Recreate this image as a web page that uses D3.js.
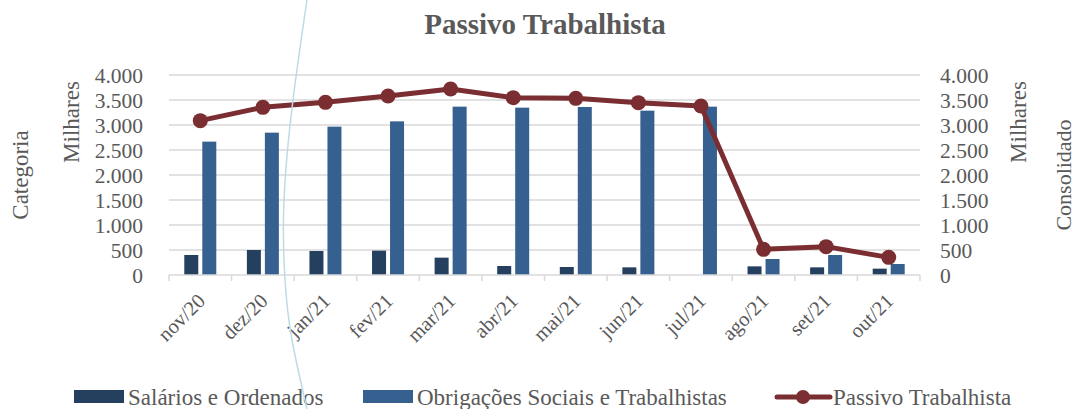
<!DOCTYPE html>
<html lang='pt'>
<head>
    <meta charset='UTF-8'>
    <title>Passivo Trabalhista</title>
    <script src='https://cdnjs.cloudflare.com/ajax/libs/d3/7.8.5/d3.min.js'></script>
    <style>
        body { margin: 0; background: #fff; }
        text { font-family: 'Liberation Serif', 'DejaVu Serif', serif; fill: #595959; }
    </style>
</head>
<body>
    <div id='anchor'></div>
    <script>
        const months = ['nov/20', 'dez/20', 'jan/21', 'fev/21', 'mar/21', 'abr/21', 'mai/21', 'jun/21', 'jul/21', 'ago/21', 'set/21', 'out/21'];
        const salarios = [400, 500, 480, 487, 347, 180, 160, 153, 0, 173, 153, 127];
        const obrigacoes = [2667, 2847, 2967, 3073, 3367, 3347, 3360, 3287, 3367, 320, 400, 220];
        const passivo = [3087, 3353, 3453, 3580, 3720, 3547, 3533, 3447, 3380, 513, 567, 353];
        const yTicks = [0, 500, 1000, 1500, 2000, 2500, 3000, 3500, 4000];
        const seriesNames = ['Salários e Ordenados', 'Obrigações Sociais e Trabalhistas', 'Passivo Trabalhista'];
        const colors = ['#253F5F', '#36608F', '#7B2E31'];

        const W = 1078, H = 409;
        const plotLeft = 169, plotRight = 920, plotTop = 75, plotBottom = 275;
        const fmt = d3.formatLocale({ decimal: ',', thousands: '.', grouping: [3], currency: ['', ''] }).format(',.0f');

        const svg = d3.select('#anchor').append('svg')
            .attr('width', W).attr('height', H);

        const x = d3.scaleBand().domain(months).range([plotLeft, plotRight]);
        const y = d3.scaleLinear().domain([0, 4000]).range([plotBottom, plotTop]);
        const y2 = d3.scaleLinear().domain([0, 4000]).range([plotBottom, plotTop]);

        // gridlines
        svg.append('g').selectAll('line').data(yTicks.filter(d => d > 0)).join('line')
            .attr('x1', plotLeft).attr('x2', plotRight)
            .attr('y1', d => y(d)).attr('y2', d => y(d))
            .attr('stroke', '#d9d9d9').attr('stroke-width', 1.3);

        // left axis
        const yl = svg.append('g').attr('transform', `translate(${plotLeft - 26},0)`)
            .call(d3.axisLeft(y).tickValues(yTicks).tickFormat(fmt).tickSize(0).tickPadding(0));
        yl.select('.domain').remove();
        yl.attr('font-family', null);
        yl.selectAll('text').attr('font-size', 21.5).attr('dy', '0.34em');

        // right axis
        const yr = svg.append('g').attr('transform', `translate(${plotRight + 20},0)`)
            .call(d3.axisRight(y2).tickValues(yTicks).tickFormat(fmt).tickSize(0).tickPadding(0));
        yr.select('.domain').remove();
        yr.attr('font-family', null);
        yr.selectAll('text').attr('font-size', 21.5).attr('dy', '0.34em');

        // bars
        const bw = 14, gap = 4;
        svg.append('g').selectAll('rect').data(months).join('rect')
            .attr('x', d => x(d) + x.bandwidth() / 2 - bw - gap / 2)
            .attr('y', (d, i) => y(salarios[i]))
            .attr('width', bw)
            .attr('height', (d, i) => y(0) - y(salarios[i]))
            .attr('fill', colors[0]);
        svg.append('g').selectAll('rect').data(months).join('rect')
            .attr('x', d => x(d) + x.bandwidth() / 2 + gap / 2)
            .attr('y', (d, i) => y(obrigacoes[i]))
            .attr('width', bw)
            .attr('height', (d, i) => y(0) - y(obrigacoes[i]))
            .attr('fill', colors[1]);

        // x axis
        svg.append('line').attr('x1', plotLeft).attr('x2', plotRight)
            .attr('y1', plotBottom).attr('y2', plotBottom)
            .attr('stroke', '#d9d9d9').attr('stroke-width', 1.5);
        svg.append('g').selectAll('line').data(d3.range(months.length + 1)).join('line')
            .attr('x1', i => plotLeft + i * x.step()).attr('x2', i => plotLeft + i * x.step())
            .attr('y1', plotBottom).attr('y2', plotBottom + 6)
            .attr('stroke', '#d9d9d9').attr('stroke-width', 1.5);
        svg.append('g').selectAll('text').data(months).join('text')
            .attr('transform', d => `translate(${x(d) + x.bandwidth() / 2 - 4},${plotBottom + 17}) rotate(-45)`)
            .attr('text-anchor', 'end')
            .attr('dy', '0.7em')
            .attr('font-size', 20.5)
            .text(d => d);

        // line
        const cx = d => x(d) + x.bandwidth() / 2;
        svg.append('path')
            .datum(months)
            .attr('fill', 'none')
            .attr('stroke', colors[2])
            .attr('stroke-width', 5)
            .attr('stroke-linejoin', 'round')
            .attr('d', d3.line().x(cx).y((d, i) => y2(passivo[i])));
        svg.append('g').selectAll('circle').data(months).join('circle')
            .attr('cx', cx)
            .attr('cy', (d, i) => y2(passivo[i]))
            .attr('r', 7.5)
            .attr('fill', colors[2]);

        // title and axis titles
        svg.append('text').attr('x', 545).attr('y', 34).attr('text-anchor', 'middle')
            .attr('font-size', 29).attr('font-weight', 'bold').text('Passivo Trabalhista');
        svg.append('text').attr('transform', 'translate(79,122) rotate(-90)').attr('text-anchor', 'middle')
            .attr('font-size', 23).text('Milhares');
        svg.append('text').attr('transform', 'translate(28,175) rotate(-90)').attr('text-anchor', 'middle')
            .attr('font-size', 23).text('Categoria');
        svg.append('text').attr('transform', 'translate(1026,122) rotate(-90)').attr('text-anchor', 'middle')
            .attr('font-size', 23).text('Milhares');
        svg.append('text').attr('transform', 'translate(1071,175) rotate(-90)').attr('text-anchor', 'middle')
            .attr('font-size', 22).text('Consolidado');

        // legend
        const lg = svg.append('g');
        const legendX = [74, 363, 777];
        [0, 1].forEach(i => {
            lg.append('rect').attr('x', legendX[i]).attr('y', 390).attr('width', 50).attr('height', 13).attr('fill', colors[i]);
            lg.append('text').attr('x', legendX[i] + 54).attr('y', 397).attr('dy', '0.35em').attr('font-size', 23).text(seriesNames[i]);
        });
        lg.append('line').attr('x1', legendX[2]).attr('x2', legendX[2] + 53).attr('y1', 397).attr('y2', 397)
            .attr('stroke', colors[2]).attr('stroke-width', 5).attr('stroke-linecap', 'round');
        lg.append('circle').attr('cx', legendX[2] + 26).attr('cy', 397).attr('r', 7).attr('fill', colors[2]);
        lg.append('text').attr('x', legendX[2] + 56).attr('y', 397).attr('dy', '0.35em').attr('font-size', 23).text(seriesNames[2]);

        // faint arc crossing the image
        const arc = [[307, 0], [293, 100], [284, 200], [285, 280], [292, 340], [307, 409]];
        svg.append('path')
            .attr('d', d3.line().curve(d3.curveNatural)(arc))
            .attr('fill', 'none').attr('stroke', '#bcdbe6').attr('stroke-width', 1.5);
    </script>
</body>
</html>
